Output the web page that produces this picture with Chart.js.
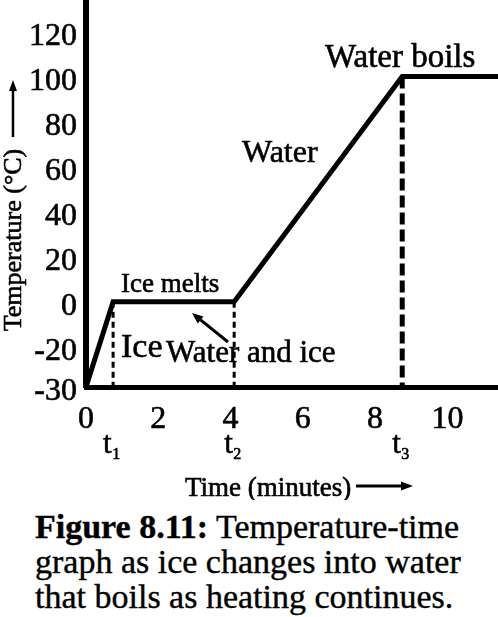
<!DOCTYPE html>
<html><head><meta charset="utf-8">
<script src="https://cdn.jsdelivr.net/npm/chart.js@4/dist/chart.umd.min.js"></script>
<style>
html,body{margin:0;padding:0;background:#fff;}
#wrap{position:relative;width:498px;height:617px;overflow:hidden;}
canvas{position:absolute;left:0;top:0;}
#cap{position:absolute;left:35px;top:509px;font-family:'Liberation Serif';font-size:34px;line-height:35px;color:#000;white-space:nowrap;-webkit-text-stroke:0.4px #000;}
</style></head><body>
<div id="wrap"><canvas id="c" width="498" height="500"></canvas>
<div id="cap"><b>Figure 8.11:</b> Temperature-time<br>graph as ice changes into water<br>that boils as heating continues.</div></div>
<script>
// ---- data ----
const timeMinutes = [0, 0.75, 4.1, 8.75, 11.4];
const temperatureC = [-30, 0, 0, 100, 100];
const markTimes = [0.75, 4.1, 8.75];
const markTemps = [0, 0, 100];
const markSubs = ['1', '2', '3'];
const xTickValues = [0, 2, 4, 6, 8, 10];
const yTickValues = [-30, -20, 0, 20, 40, 60, 80, 100, 120];
const xRange = [0, 11.4];
const yRange = [-30, 134];

// y axis of the figure is stretched below -20 (broken axis)
const BREAK = -20, STRETCH = 1.78;
class BrokenLinearScale extends Chart.LinearScale {
  _warp(v){ return v >= BREAK ? v : BREAK + (v - BREAK) * STRETCH; }
  _unwarp(u){ return u >= BREAK ? u : BREAK + (u - BREAK) / STRETCH; }
  getPixelForValue(value){
    if (value === null || value === undefined || isNaN(value)) return NaN;
    const a = this._warp(this.min), b = this._warp(this.max);
    return this.getPixelForDecimal((this._warp(value) - a) / (b - a));
  }
  getValueForPixel(pixel){
    const a = this._warp(this.min), b = this._warp(this.max);
    return this._unwarp(a + this.getDecimalForPixel(pixel) * (b - a));
  }
}
BrokenLinearScale.id = 'brokenLinear';
Chart.register(BrokenLinearScale);

const serif = s => s + 'px "Liberation Serif"';

function arrow(ctx, x1, y1, x2, y2, lw, hl, hw){
  const ang = Math.atan2(y2 - y1, x2 - x1);
  const bx = x2 - hl * Math.cos(ang), by = y2 - hl * Math.sin(ang);
  ctx.lineWidth = lw;
  ctx.beginPath(); ctx.moveTo(x1, y1); ctx.lineTo(bx, by); ctx.stroke();
  ctx.beginPath();
  ctx.moveTo(x2, y2);
  ctx.lineTo(bx + hw/2 * Math.sin(ang), by - hw/2 * Math.cos(ang));
  ctx.lineTo(bx - hw/2 * Math.sin(ang), by + hw/2 * Math.cos(ang));
  ctx.closePath(); ctx.fill();
}

function text(ctx, s, x, y){
  ctx.lineWidth = 0.6;
  ctx.strokeText(s, x, y);
  ctx.fillText(s, x, y);
}

const annot = {
  id: 'annot',
  afterDraw(chart){
    const ctx = chart.ctx, xs = chart.scales.x;
    ctx.save();
    ctx.fillStyle = '#000'; ctx.strokeStyle = '#000';
    ctx.textBaseline = 'alphabetic'; ctx.textAlign = 'left';
    ctx.font = serif(27); text(ctx, 'Ice melts', 121, 292);
    ctx.font = serif(34); text(ctx, 'Ice', 121, 357);
    ctx.font = serif(31); text(ctx, 'Water and ice', 166, 362);
    ctx.font = serif(32); text(ctx, 'Water', 242, 162);
    ctx.font = serif(33); text(ctx, 'Water boils', 325, 67);
    arrow(ctx, 228, 342, 192, 313, 3, 11, 9);
    markTimes.forEach((t, i) => {
      const px = xs.getPixelForValue(t);
      ctx.font = serif(31); text(ctx, 't', px - 10, 453);
      const w = ctx.measureText('t').width;
      ctx.font = serif(16); text(ctx, markSubs[i], px - 10 + w + 0.5, 459);
    });
    ctx.font = serif(27); text(ctx, 'Time (minutes)', 185, 496);
    arrow(ctx, 356, 486, 413, 486, 3, 12, 9);
    ctx.save();
    ctx.translate(20.5, 240); ctx.rotate(-Math.PI / 2);
    ctx.textAlign = 'center'; ctx.font = serif(26);
    text(ctx, 'Temperature (°C)', 0, 0);
    ctx.restore();
    arrow(ctx, 13, 137, 13, 80, 2.5, 11, 8);
    ctx.restore();
  }
};

const mainLine = timeMinutes.map((t, i) => ({x: t, y: temperatureC[i]}));
const dropLines = markTimes.map((t, i) => [{x: t, y: markTemps[i]}, {x: t, y: yRange[0]}]);

new Chart(document.getElementById('c'), {
  type: 'scatter',
  data: {
    datasets: [
      {data: mainLine, showLine: true, borderColor: '#000', borderWidth: 5, pointRadius: 0, borderJoinStyle: 'miter', tension: 0},
      {data: dropLines[0], showLine: true, borderColor: '#000', borderWidth: 3, borderDash: [6, 4], pointRadius: 0},
      {data: dropLines[1], showLine: true, borderColor: '#000', borderWidth: 3, borderDash: [6, 4], pointRadius: 0},
      {data: dropLines[2], showLine: true, borderColor: '#000', borderWidth: 5, borderDash: [12, 5], pointRadius: 0}
    ]
  },
  options: {
    responsive: false, animation: false, devicePixelRatio: 1,
    layout: {padding: 0, autoPadding: false},
    plugins: {legend: {display: false}, tooltip: {enabled: false}},
    scales: {
      x: {
        type: 'linear', min: xRange[0], max: xRange[1],
        afterBuildTicks: s => { s.ticks = xTickValues.map(v => ({value: v})); },
        afterFit: s => { s.height = 113; s.paddingLeft = 0; s.paddingRight = 0; },
        grid: {display: true, color: 'rgba(0,0,0,0)', drawTicks: false},
        border: {display: true, color: '#000', width: 5},
        ticks: {color: '#000', font: {family: 'Liberation Serif', size: 32}, padding: 13, maxRotation: 0, autoSkip: false,
                textStrokeColor: '#000', textStrokeWidth: 0.6, callback: v => String(v)}
      },
      y: {
        type: 'brokenLinear', min: yRange[0], max: yRange[1],
        afterBuildTicks: s => { s.ticks = yTickValues.map(v => ({value: v})); },
        afterFit: s => { s.width = 86; s.paddingTop = 0; s.paddingBottom = 0; },
        grid: {display: true, color: 'rgba(0,0,0,0)', drawTicks: false},
        border: {display: true, color: '#000', width: 6},
        ticks: {color: '#000', font: {family: 'Liberation Serif', size: 32}, padding: 9, labelOffset: 5, autoSkip: false,
                textStrokeColor: '#000', textStrokeWidth: 0.6, callback: v => String(v)}
      }
    }
  },
  plugins: [annot]
});
</script>
</body></html>
